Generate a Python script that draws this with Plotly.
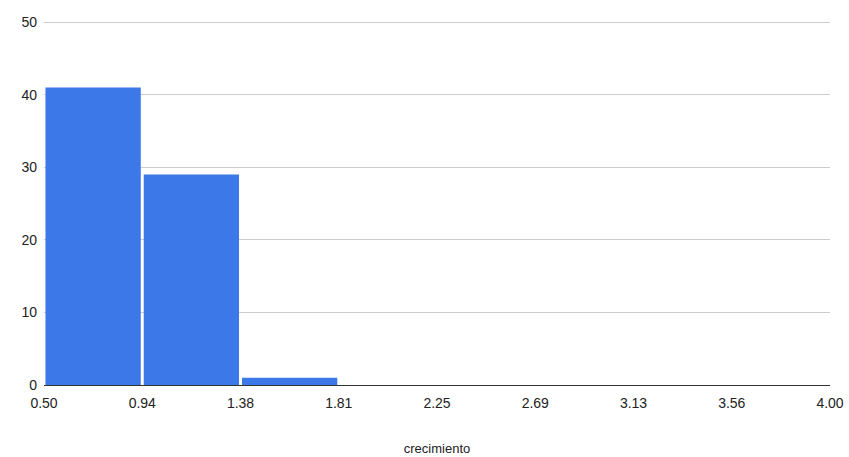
import plotly.graph_objects as go

bin_edges = [0.5, 0.9375, 1.375, 1.8125, 2.25, 2.6875, 3.125, 3.5625, 4.0]
tick_labels = ["0.50", "0.94", "1.38", "1.81", "2.25", "2.69", "3.13", "3.56", "4.00"]
counts = [41, 29, 1]
y_ticks = [0, 10, 20, 30, 40, 50]
x_title = "crecimiento"

centers = [(bin_edges[i] + bin_edges[i + 1]) / 2 for i in range(len(counts))]

fig = go.Figure(go.Bar(
    x=centers, y=counts,
    marker=dict(color="#3c78e8", line=dict(width=0)),
    hoverinfo="x+y",
))

font_family = "Arial, 'Liberation Sans', sans-serif"
fig.update_layout(
    width=849, height=457,
    margin=dict(l=44, r=19, t=21, b=72),
    paper_bgcolor="white", plot_bgcolor="white",
    bargap=0.03,
    showlegend=False,
    font=dict(family=font_family, size=14, color="#222222"),
    xaxis=dict(
        range=[bin_edges[0], bin_edges[-1]],
        tickmode="array", tickvals=bin_edges, ticktext=tick_labels,
        showgrid=False, zeroline=False, automargin=False,
        showline=True, linecolor="#333333", linewidth=1,
        ticks="", ticklabelstandoff=5,
        tickfont=dict(size=14, color="#222222"),
        title=dict(text=x_title, font=dict(size=13, color="#222222"), standoff=34),
    ),
    yaxis=dict(
        range=[0, 50.15], automargin=False,
        tickmode="array", tickvals=y_ticks,
        showgrid=True, gridcolor="#cccccc", gridwidth=1,
        zeroline=False, showline=False, ticks="",
        ticklabelstandoff=6,
        tickfont=dict(size=14, color="#222222"),
    ),
)

fig.write_html("out.html")
